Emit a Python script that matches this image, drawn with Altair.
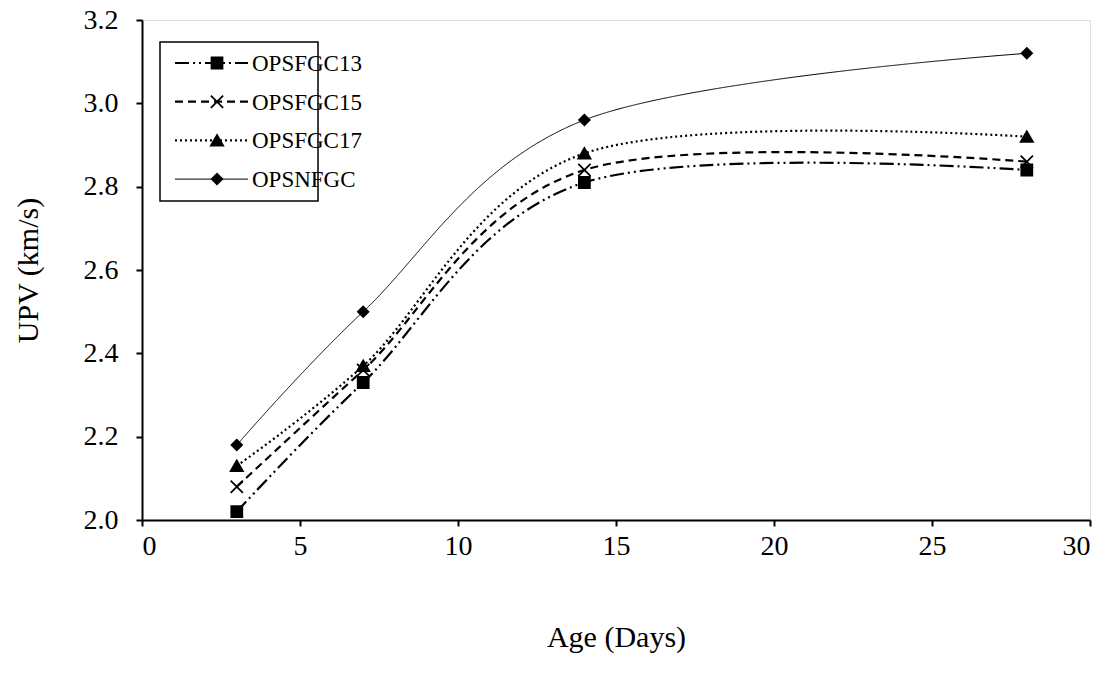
import altair as alt
import pandas as pd

age = [3, 7, 14, 28]
series = ["OPSFGC13", "OPSFGC15", "OPSFGC17", "OPSNFGC"]
v13 = [2.02, 2.33, 2.81, 2.84]
v15 = [2.08, 2.36, 2.84, 2.86]
v17 = [2.13, 2.37, 2.88, 2.92]
vnf = [2.18, 2.50, 2.96, 3.12]
x_ticks = [0, 5, 10, 15, 20, 25, 30]
y_ticks = [2.0, 2.2, 2.4, 2.6, 2.8, 3.0, 3.2]

dash_range = [[14, 4, 2, 4, 2, 4], [8, 5], [2, 3], [1, 0]]
width_range = [2.2, 2.2, 2.2, 1.0]
shape_range = ["square", "M-1,-1L1,1M-1,1L1,-1", "triangle-up", "diamond"]
size_range = [120, 150, 150, 110]

rows = []
for s, vals in zip(series, [v13, v15, v17, vnf]):
    for a, v in zip(age, vals):
        rows.append({"series": s, "age": a, "upv": v})
df = pd.DataFrame(rows)

FONT = "Liberation Serif"
FS = 28
TFS = 30

dash_scale = alt.Scale(domain=series, range=dash_range)
width_scale = alt.Scale(type="ordinal", domain=series, range=width_range)
shape_scale = alt.Scale(domain=series, range=shape_range)
size_scale = alt.Scale(type="ordinal", domain=series, range=size_range)

xenc = alt.X("age:Q", scale=alt.Scale(domain=[0, 30], nice=False),
             axis=alt.Axis(values=x_ticks, title="Age (Days)", grid=False,
                           domainColor="black", domainWidth=2, tickColor="black",
                           tickWidth=2, tickSize=6, labelPadding=6,
                           labelFont=FONT, labelFontSize=FS, labelColor="black",
                           titleFont=FONT, titleFontSize=TFS, titleFontWeight="normal",
                           titleColor="black", titlePadding=62))
yenc = alt.Y("upv:Q", scale=alt.Scale(domain=[2.0, 3.2], nice=False, zero=False),
             axis=alt.Axis(values=y_ticks, format=".1f", title="UPV (km/s)", grid=False,
                           domainColor="black", domainWidth=2, tickColor="black",
                           tickWidth=2, tickSize=6, labelPadding=18,
                           labelFont=FONT, labelFontSize=FS, labelColor="black",
                           titleFont=FONT, titleFontSize=TFS, titleFontWeight="normal",
                           titleColor="black", titlePadding=40))

base = alt.Chart(df)
lines = base.mark_line(interpolate="cardinal", color="black").encode(
    x=xenc, y=yenc, detail="series:N",
    strokeDash=alt.StrokeDash("series:N", scale=dash_scale, legend=None),
    strokeWidth=alt.StrokeWidth("series:N", scale=width_scale, legend=None),
)
points = base.mark_point(filled=True, fill="black", stroke="black", strokeWidth=1.8, opacity=1).encode(
    x="age:Q", y="upv:Q",
    shape=alt.Shape("series:N", scale=shape_scale, legend=None),
    size=alt.Size("series:N", scale=size_scale, legend=None),
)

# legend (pixel positions inside the plot area)
leg_df = pd.DataFrame({"series": series, "i": list(range(len(series)))})
leg_box = alt.Chart(pd.DataFrame({"k": [0]})).mark_rect(
    fill="white", stroke="black", strokeWidth=1.5
).encode(x=alt.value(18), x2=alt.value(176), y=alt.value(22), y2=alt.value(181))

leg_base = alt.Chart(leg_df).transform_calculate(ly="43 + datum.i * 38.7")
leg_lines = leg_base.mark_rule(color="black").encode(
    x=alt.value(33), x2=alt.value(106), y=alt.Y("ly:Q", scale=None),
    strokeDash=alt.StrokeDash("series:N", scale=dash_scale, legend=None),
    strokeWidth=alt.StrokeWidth("series:N", scale=width_scale, legend=None),
)
leg_pts = leg_base.mark_point(filled=True, fill="black", stroke="black", strokeWidth=1.8, opacity=1).encode(
    x=alt.value(75), y=alt.Y("ly:Q", scale=None),
    shape=alt.Shape("series:N", scale=shape_scale, legend=None),
    size=alt.Size("series:N", scale=size_scale, legend=None),
)
leg_text = leg_base.mark_text(align="left", baseline="middle", font=FONT, fontSize=23, color="black", dy=1).encode(
    x=alt.value(110), y=alt.Y("ly:Q", scale=None), text="series:N"
)

chart = alt.layer(lines, points, leg_box, leg_lines, leg_pts, leg_text).properties(
    width=948, height=500,
    autosize=alt.AutoSizeParams(type="none"),
    padding={"left": 142, "top": 20, "right": 27, "bottom": 155},
).configure_view(stroke="black", strokeWidth=1.5).configure(background="white")

chart.save("out.html", embed_options={"renderer": "svg", "actions": False})
